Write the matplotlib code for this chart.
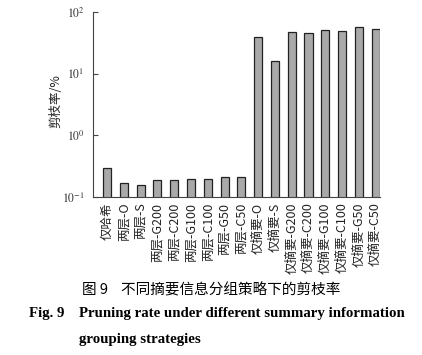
import numpy as np
import matplotlib
matplotlib.use("Agg")
import matplotlib.pyplot as plt

plt.rcParams['font.family'] = ['Liberation Serif', 'Noto Sans CJK SC', 'DejaVu Sans']
plt.rcParams['mathtext.fontset'] = 'stix'

# 数据
categories = ['仅哈希', '两层-O', '两层-S', '两层-G200', '两层-C200', '两层-G100',
              '两层-C100', '两层-G50', '两层-C50', '仅摘要-O', '仅摘要-S',
              '仅摘要-G200', '仅摘要-C200', '仅摘要-G100', '仅摘要-C100',
              '仅摘要-G50', '仅摘要-C50']
pruning_rate = [0.294, 0.171, 0.156, 0.188, 0.188, 0.193, 0.195, 0.211, 0.211,
                39.0, 15.9, 47.5, 46.4, 51.2, 48.7, 56.5, 52.5]
yticks = [0.1, 1, 10, 100]
ytick_labels = [r'$10^{-1}$', r'$10^{0}$', r'$10^{1}$', r'$10^{2}$']

cjk = ['Noto Sans CJK SC', 'DejaVu Sans']

fig = plt.figure(figsize=(4.22, 3.55), dpi=100)
ax = fig.add_axes([0.220, 0.445, 0.680, 0.521])

x = np.arange(len(categories))
ax.bar(x, pruning_rate, width=0.48, color='#a9a9a9', edgecolor='#222222',
       linewidth=0.9)
ax.set_yscale('log')
ax.set_ylim(0.1, 100)
ax.set_xlim(-0.85, 16.25)
ax.set_yticks(yticks)
ax.set_yticklabels(ytick_labels, fontsize=8.5, color='#333333')
ax.minorticks_off()
ax.set_xticks(x)
ax.set_xticklabels(categories, rotation=90, fontsize=9, family=cjk,
                   color='#222222')
ax.tick_params(axis='x', length=0, pad=4)
ax.tick_params(axis='y', direction='in', length=3.5, width=0.8, pad=6,
               color='#444444')
ax.spines['top'].set_visible(False)
ax.spines['right'].set_visible(False)
for s in ['left', 'bottom']:
    ax.spines[s].set_color('#444444')
ax.set_ylabel('剪枝率/%', fontsize=9, family=cjk, color='#222222')
ax.yaxis.set_label_coords(-0.105, 0.52)

# 图题
fig.text(0.50, 0.183, '图 9    不同摘要信息分组策略下的剪枝率', ha='center', va='center',
         fontsize=10.5, family=cjk)
fig.text(0.068, 0.118, 'Fig. 9', ha='left', va='center', fontsize=10.7,
         fontweight='bold')
fig.text(0.187, 0.118, 'Pruning rate under different summary information',
         ha='left', va='center', fontsize=10.7, fontweight='bold')
fig.text(0.187, 0.045, 'grouping strategies', ha='left', va='center',
         fontsize=10.7, fontweight='bold')

fig.savefig('out.png', dpi=100)
